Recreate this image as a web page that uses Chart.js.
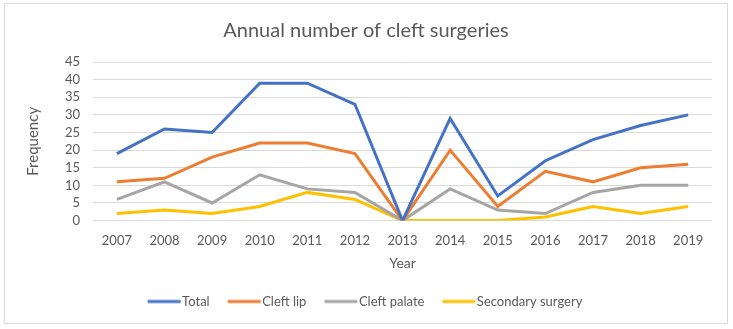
<!DOCTYPE html>
<html><head><meta charset="utf-8">
<script src="https://cdn.jsdelivr.net/npm/chart.js@4/dist/chart.umd.min.js"></script>
<style>
html,body{margin:0;padding:0;background:#fff;}
#wrap{position:absolute;left:4px;top:3px;width:724px;height:321px;border:1px solid #d9d9d9;box-sizing:border-box;}
#c{position:absolute;left:0;top:0;}
</style></head>
<body>
<div id="wrap"></div>
<canvas id="c" width="733" height="329"></canvas>
<script>
const years = ['2007','2008','2009','2010','2011','2012','2013','2014','2015','2016','2017','2018','2019'];
const total = [19,26,25,39,39,33,0,29,7,17,23,27,30];
const cleftLip = [11,12,18,22,22,19,0,20,4,14,11,15,16];
const cleftPalate = [6,11,5,13,9,8,0,9,3,2,8,10,10];
const secondary = [2,3,2,4,8,6,0,0,0,1,4,2,4];
const seriesNames = ['Total','Cleft lip','Cleft palate','Secondary surgery'];
const colors = ['#4472C4','#ED7D31','#A5A5A5','#FFC000'];
const FONT = 'Lato, "Open Sans", sans-serif';
const vals = [total, cleftLip, cleftPalate, secondary];
function legendLine(color){
  const cv = document.createElement('canvas');
  cv.width = 46; cv.height = 6;
  const g = cv.getContext('2d');
  g.strokeStyle = color; g.lineWidth = 3;
  g.beginPath(); g.moveTo(8, 3); g.lineTo(41, 3); g.stroke();
  return cv;
}
new Chart(document.getElementById('c'), {
  type: 'line',
  data: {
    labels: years,
    datasets: vals.map((v,i)=>({label: seriesNames[i], data: v, borderColor: colors[i], backgroundColor: colors[i], borderWidth: 3, pointRadius: 0, pointStyle: legendLine(colors[i]), tension: 0, fill: false}))
  },
  options: {
    responsive: false, animation: false,
    layout: {padding: {left: 20, right: 21, top: 16, bottom: 11}},
    plugins: {
      title: {display: true, text: 'Annual number of cleft surgeries', color: '#595959', font: {family: FONT, size: 20, weight: 'normal'}, padding: {top: 3, bottom: 19}},
      legend: {position: 'bottom', labels: {usePointStyle: true, pointStyleWidth: 26, color: '#595959', font: {family: FONT, size: 13}, padding: 20}},
      tooltip: {enabled: false}
    },
    scales: {
      x: {offset: true, grid: {display: false, drawTicks: false}, border: {display: false},
          ticks: {color: '#595959', font: {family: FONT, size: 13}, padding: 12, maxRotation: 0, autoSkip: false},
          title: {display: true, text: 'Year', color: '#595959', font: {family: FONT, size: 14}, padding: {top: -5, bottom: 3}}},
      y: {min: 0, max: 45, grid: {color: '#d9d9d9', drawTicks: false}, border: {display: false},
          ticks: {stepSize: 5, color: '#595959', font: {family: FONT, size: 13}, padding: 13, autoSkip: false},
          title: {display: true, text: 'Frequency', color: '#595959', font: {family: FONT, size: 15}, padding: {bottom: 10}}}
    }
  }
});
</script>
</body></html>
